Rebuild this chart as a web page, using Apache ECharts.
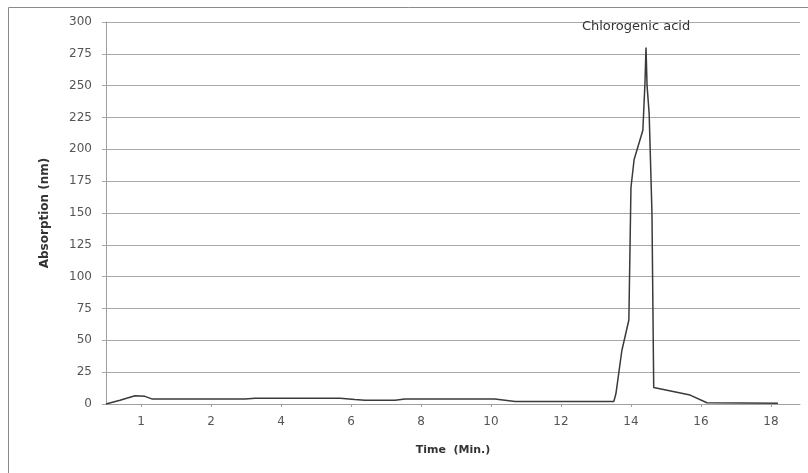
<!DOCTYPE html>
<html>
<head>
<meta charset="utf-8">
<script src="https://cdn.jsdelivr.net/npm/echarts@6/dist/echarts.min.js"></script>
<style>html,body{margin:0;padding:0;background:#fff;}#c{width:808px;height:473px;}</style>
</head>
<body>
<div id="c"></div>
<script>
const times = [-1.0, -0.6, -0.17, 0.11, 0.31, 2.97, 3.26, 5.69, 6.11, 6.4, 7.26, 7.54, 10.11, 10.69, 13.51, 13.57, 13.74, 13.94, 14.0, 14.09, 14.34, 14.4, 14.43, 14.46, 14.52, 14.6, 14.65, 15.69, 16.17, 18.2];
const absorption = [0, 3, 6.5, 6, 4, 4, 4.5, 4.5, 3.5, 3, 3, 4, 4, 2, 2, 8, 42, 66, 170, 192, 215, 252, 280, 250, 228, 150, 13, 7, 1, 0.5];
const tickValues = [0, 2, 4, 6, 8, 10, 12, 14, 16, 18];
const tickLabels = ['1', '2', '4', '6', '8', '10', '12', '14', '16', '18'];
const peakName = 'Chlorogenic acid';

const data = times.map((t, i) => [t, absorption[i]]);
const chart = echarts.init(document.getElementById('c'));
chart.setOption({
  animation: false,
  backgroundColor: '#fff',
  textStyle: { fontFamily: 'DejaVu Sans' },
  graphic: [{
    type: 'rect', shape: { x: 8.5, y: 7.5, width: 820, height: 480 },
    style: { fill: 'none', stroke: '#8a8a8a', lineWidth: 1 }, silent: true, z: -1
  }],
  grid: { left: 106, right: 8, top: 22, bottom: 69 },
  xAxis: {
    type: 'value', min: -1, max: 18.83,
    name: 'Time  (Min.)', nameLocation: 'middle', nameGap: 41,
    nameTextStyle: { fontWeight: 'bold', fontSize: 11, color: '#333', fontFamily: 'DejaVu Sans' },
    axisLine: { show: true, onZero: false, lineStyle: { color: '#a0a0a0', width: 1 } },
    axisTick: { show: true, customValues: tickValues, length: 3, lineStyle: { color: '#a0a0a0' } },
    axisLabel: {
      customValues: tickValues, margin: 12, fontSize: 12, color: '#555',
      formatter: v => tickLabels[tickValues.indexOf(Math.round(v))] || ''
    },
    splitLine: { show: false }
  },
  yAxis: {
    type: 'value', min: 0, max: 300, interval: 25,
    name: 'Absorption (nm)', nameLocation: 'middle', nameGap: 55, nameRotate: 90,
    nameTextStyle: { fontWeight: 'bold', fontSize: 12, color: '#333', fontFamily: 'DejaVu Sans' },
    axisLine: { show: true, onZero: false, lineStyle: { color: '#a0a0a0', width: 1 } },
    axisTick: { show: true, length: 4, lineStyle: { color: '#a8a8a8' } },
    axisLabel: { margin: 14, fontSize: 12, color: '#555' },
    splitLine: { show: true, lineStyle: { color: '#a8a8a8', width: 1 } }
  },
  series: [{
    type: 'line', data: data, showSymbol: false, symbol: 'none',
    lineStyle: { color: '#3a3a3a', width: 1.5 },
    markPoint: {
      symbol: 'circle', symbolSize: 0,
      data: [{ coord: [times[22], absorption[22]], name: peakName }],
      label: { show: true, formatter: peakName, offset: [-10, -21], fontSize: 13, color: '#333', fontFamily: 'DejaVu Sans' }
    }
  }]
});
</script>
</body>
</html>
